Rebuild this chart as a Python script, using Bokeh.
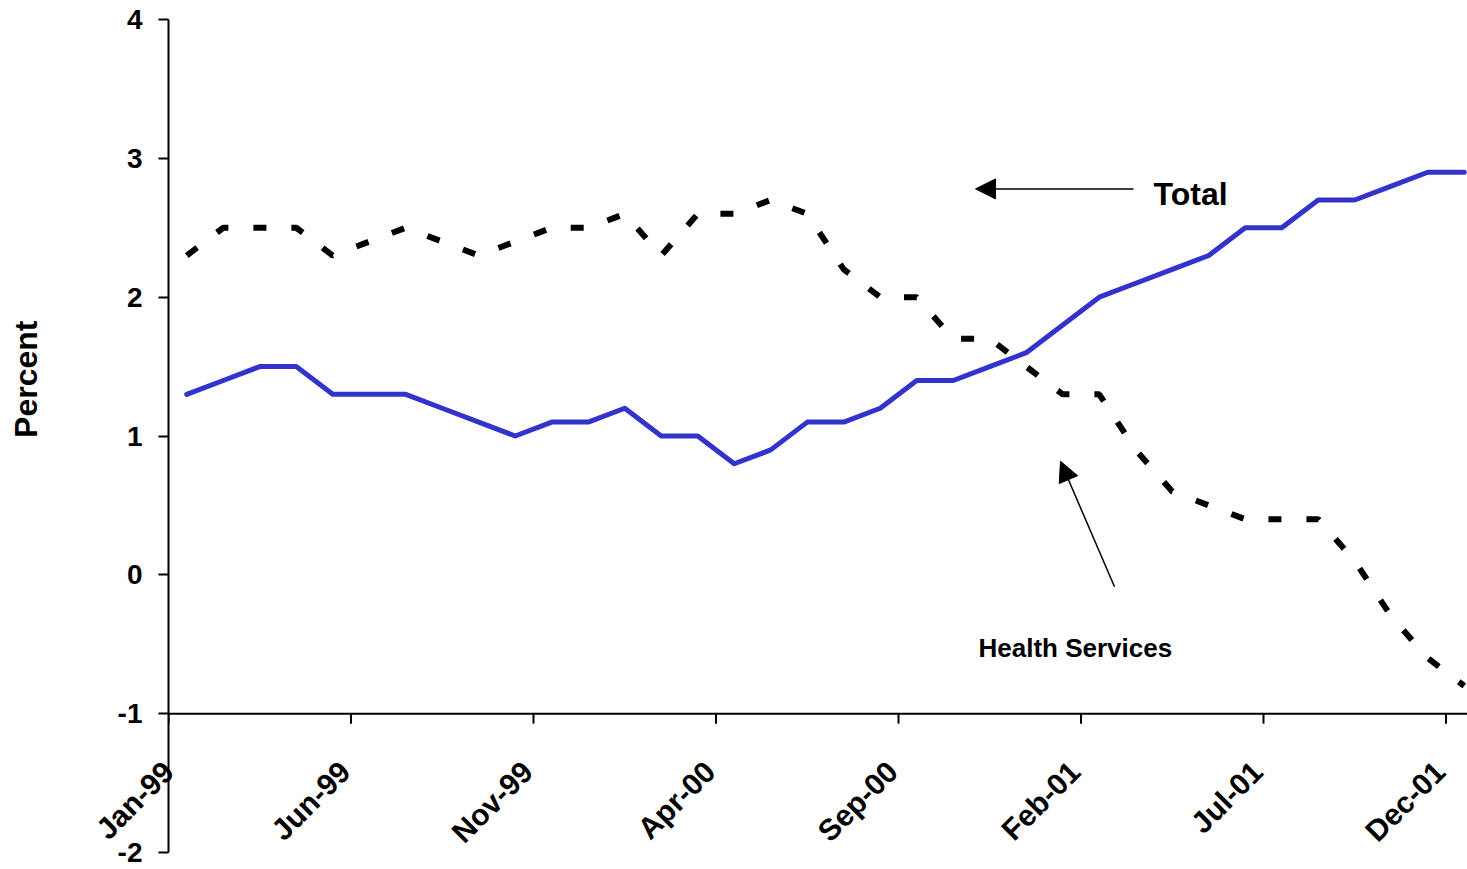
from bokeh.plotting import figure
from bokeh.models import Range1d, FixedTicker, Span, Label, Arrow, NormalHead, Title
from bokeh.embed import file_html
from bokeh.resources import INLINE
import math

# ---- data ----
months = ["Jan-99", "Feb-99", "Mar-99", "Apr-99", "May-99", "Jun-99", "Jul-99", "Aug-99",
          "Sep-99", "Oct-99", "Nov-99", "Dec-99", "Jan-00", "Feb-00", "Mar-00", "Apr-00",
          "May-00", "Jun-00", "Jul-00", "Aug-00", "Sep-00", "Oct-00", "Nov-00", "Dec-00",
          "Jan-01", "Feb-01", "Mar-01", "Apr-01", "May-01", "Jun-01", "Jul-01", "Aug-01",
          "Sep-01", "Oct-01", "Nov-01", "Dec-01"]
total = [1.3, 1.4, 1.5, 1.5, 1.3, 1.3, 1.3, 1.2, 1.1, 1.0, 1.1, 1.1, 1.2, 1.0, 1.0, 0.8,
         0.9, 1.1, 1.1, 1.2, 1.4, 1.4, 1.5, 1.6, 1.8, 2.0, 2.1, 2.2, 2.3, 2.5, 2.5, 2.7,
         2.7, 2.8, 2.9, 2.9]
health = [2.3, 2.5, 2.5, 2.5, 2.3, 2.4, 2.5, 2.4, 2.3, 2.4, 2.5, 2.5, 2.6, 2.3, 2.6, 2.6,
          2.7, 2.6, 2.2, 2.0, 2.0, 1.7, 1.7, 1.5, 1.3, 1.3, 0.9, 0.6, 0.5, 0.4, 0.4, 0.4,
          0.1, -0.3, -0.6, -0.8]
label_step = 5
y_ticks = [-2, -1, 0, 1, 2, 3, 4]

FONT = "Liberation Sans"

xs = [i + 0.5 for i in range(len(months))]
tick_pos = list(range(0, len(months), label_step))

PX_X = 36.5
LABEL_SHIFT = 6 / PX_X          # rotated labels end just left of their tick
x_end = (1467 - 168) / PX_X
FRAME_TOP, FRAME_BOTTOM = 19, 852
p = figure(width=1467, height=869, output_backend="svg", toolbar_location=None,
           x_range=Range1d(0, x_end), y_range=Range1d(-2, 4),
           min_border_left=168, min_border_right=0,
           min_border_top=FRAME_TOP, min_border_bottom=869 - FRAME_BOTTOM)
p.outline_line_color = None
p.xgrid.visible = False
p.ygrid.visible = False
p.background_fill_color = "white"
p.border_fill_color = "white"

# vertical axis
ya = p.yaxis[0]
ya.ticker = FixedTicker(ticks=y_ticks)
ya.major_label_overrides = {t: str(t) for t in y_ticks}
ya.axis_line_width = 2
ya.axis_line_color = "black"
ya.major_tick_line_width = 2
ya.major_tick_out = 10
ya.major_tick_in = 0
ya.minor_tick_out = 0
ya.minor_tick_in = 0
ya.major_label_standoff = 16
ya.major_label_text_font = FONT
ya.major_label_text_font_style = "bold"
ya.major_label_text_font_size = "28px"
ya.major_label_text_color = "black"
# blank axis label used only as spacing before the title panel
ya.axis_label = " "
ya.axis_label_text_font_size = "10px"
ya.axis_label_standoff = 57

# category labels: carried by the bottom axis, lifted up under the line at y = -1
label_ticks = [max(0.0, t - LABEL_SHIFT) for t in tick_pos]
xa = p.xaxis[0]
xa.ticker = FixedTicker(ticks=label_ticks)
xa.major_label_overrides = {lt: months[t] for lt, t in zip(label_ticks, tick_pos)}
xa.major_label_orientation = math.pi / 4
xa.axis_line_color = None
xa.major_tick_line_color = None
xa.minor_tick_line_color = None
xa.major_tick_out = 0
xa.major_tick_in = 0
xa.major_label_standoff = -86
xa.major_label_text_font = FONT
xa.major_label_text_font_style = "bold"
xa.major_label_text_font_size = "30px"
xa.major_label_text_color = "black"

px_per_unit_y = (FRAME_BOTTOM - FRAME_TOP) / 6.0

# horizontal axis line at y = -1 with its ticks
p.add_layout(Span(location=-1, dimension="width", line_color="black", line_width=2))
p.segment(x0=tick_pos, y0=[-1] * len(tick_pos), x1=tick_pos,
          y1=[-1 - 10 / px_per_unit_y] * len(tick_pos), line_color="black", line_width=2)

# series
p.line(xs, health, line_color="black", line_width=6, line_dash="13 25")
p.line(xs, total, line_color="#3333CC", line_width=5, line_join="round", line_cap="round")

# y axis title
p.add_layout(Title(text="Percent", align="right", offset=301, standoff=0,
                   vertical_align="bottom", text_font=FONT, text_font_style="bold",
                   text_font_size="32px", text_color="black"), "left")

# annotations
p.add_layout(Arrow(end=NormalHead(size=20, fill_color="black", line_color="black"),
                   x_start=(1133 - 168) / PX_X, y_start=2.78,
                   x_end=(975 - 168) / PX_X, y_end=2.78,
                   line_color="black", line_width=1.5))
p.add_layout(Label(x=(1153 - 168) / PX_X, y=2.74, text="Total", text_align="left",
                   text_baseline="middle", text_font=FONT, text_font_style="bold",
                   text_font_size="32px", text_color="black"))
p.add_layout(Arrow(end=NormalHead(size=20, fill_color="black", line_color="black"),
                   x_start=(1114 - 168) / PX_X, y_start=-0.086,
                   x_end=(1060 - 168) / PX_X, y_end=0.818,
                   line_color="black", line_width=1.5))
p.add_layout(Label(x=(978 - 168) / PX_X, y=-0.524, text="Health Services",
                   text_align="left", text_baseline="middle", text_font=FONT,
                   text_font_style="bold", text_font_size="26px", text_color="black"))

open("out.html", "w").write(file_html(p, INLINE))
